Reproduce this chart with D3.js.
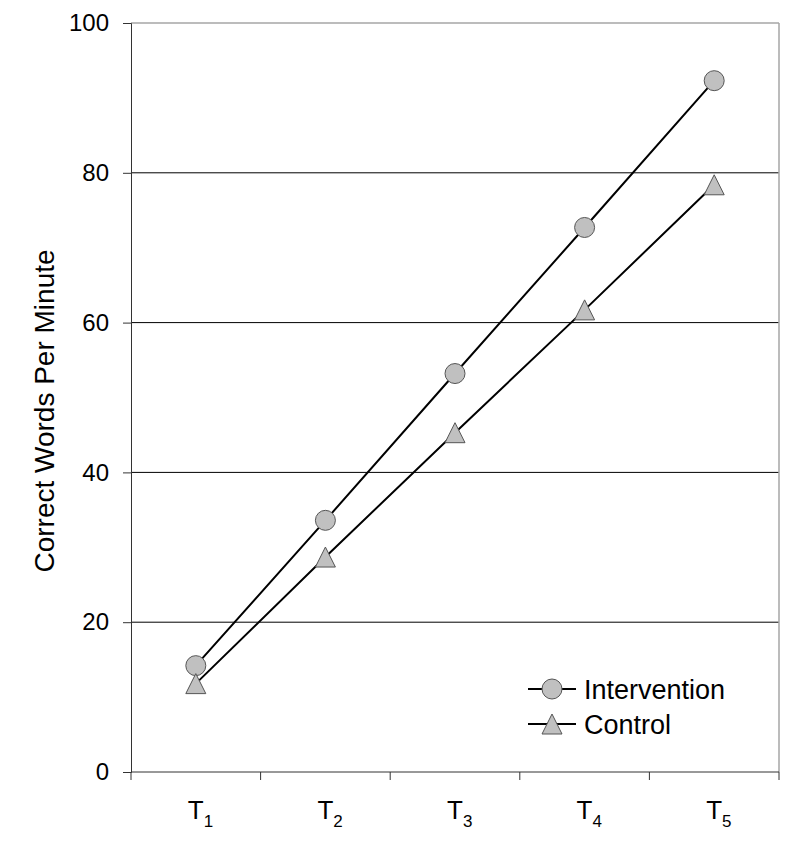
<!DOCTYPE html>
<html>
<head>
<meta charset="utf-8">
<script src="https://cdn.jsdelivr.net/npm/d3@7"></script>
<style>
  body { margin: 0; background: #fff; }
  text { font-family: Arial, "Liberation Sans", sans-serif; fill: #000; }
</style>
</head>
<body>
<svg id="chart" width="800" height="846"></svg>
<script>
// time points and series
const times = ["1", "2", "3", "4", "5"];
const intervention = [14.2, 33.6, 53.2, 72.7, 92.3];
const control = [11.8, 28.7, 45.3, 61.7, 78.4];
const yTicks = [0, 20, 40, 60, 80, 100];
const seriesNames = ["Intervention", "Control"];

const W = 800, H = 846;
const margin = {left: 131, right: 21, top: 23, bottom: 74};
const width = W - margin.left - margin.right;
const height = H - margin.top - margin.bottom;

const svg = d3.select("#chart");
const g = svg.append("g").attr("transform", `translate(${margin.left},${margin.top})`);

const x = d3.scaleBand().domain(times).range([0, width]);
const y = d3.scaleLinear().domain([0, 100]).range([height, 0]);
const cx = d => x(d) + x.bandwidth() / 2;

// gridlines (top one is the grey frame)
g.selectAll(".grid")
  .data(yTicks.filter(t => t > 0))
  .enter().append("line")
  .attr("x1", 0).attr("x2", width)
  .attr("y1", d => y(d)).attr("y2", d => y(d))
  .attr("stroke", d => d === 100 ? "#a6a6a6" : "#000")
  .attr("stroke-width", d => d === 100 ? 1.5 : 1);

// right frame
g.append("line")
  .attr("x1", width).attr("x2", width)
  .attr("y1", 0).attr("y2", height)
  .attr("stroke", "#a6a6a6").attr("stroke-width", 1.5);

// y axis
const yAxis = g.append("g")
  .call(d3.axisLeft(y).tickValues(yTicks).tickSize(8).tickPadding(14));
yAxis.select(".domain").attr("stroke", "#333");
yAxis.selectAll(".tick line").attr("stroke", "#333");
yAxis.selectAll(".tick text").style("font-size", "24px").attr("fill", "#000");

// x axis: ticks on band boundaries
const xg = g.append("g").attr("transform", `translate(0,${height})`);
xg.append("line").attr("x1", 0).attr("x2", width).attr("stroke", "#333");
xg.selectAll(".xt")
  .data(d3.range(times.length + 1))
  .enter().append("line")
  .attr("x1", i => i * x.step()).attr("x2", i => i * x.step())
  .attr("y1", 0).attr("y2", 8)
  .attr("stroke", "#333");
const xl = xg.selectAll(".xl")
  .data(times)
  .enter().append("text")
  .attr("x", d => cx(d) - 8)
  .attr("y", 47)
  .style("font-size", "26px");
xl.append("tspan").text("T");
xl.append("tspan").attr("dy", 8).style("font-size", "17px").text(d => d);

// y title
svg.append("text")
  .attr("transform", `translate(54,411) rotate(-90)`)
  .attr("text-anchor", "middle")
  .style("font-size", "28px")
  .text("Correct Words Per Minute");

const line = d3.line().x((d, i) => cx(times[i])).y(d => y(d));

const tri = (s) => `M0,${-s/2}L${s/2},${s/2}L${-s/2},${s/2}Z`;

function drawSeries(vals, marker) {
  g.append("path").datum(vals)
    .attr("d", line)
    .attr("fill", "none").attr("stroke", "#000").attr("stroke-width", 2);
  const m = g.selectAll(null).data(vals).enter();
  if (marker === "circle") {
    m.append("circle")
      .attr("cx", (d, i) => cx(times[i])).attr("cy", d => y(d)).attr("r", 10)
      .attr("fill", "#c0c0c0").attr("stroke", "#555").attr("stroke-width", 1);
  } else {
    m.append("path")
      .attr("transform", (d, i) => `translate(${cx(times[i])},${y(d)})`)
      .attr("d", tri(20))
      .attr("fill", "#c0c0c0").attr("stroke", "#555").attr("stroke-width", 1);
  }
}
drawSeries(intervention, "circle");
drawSeries(control, "triangle");

// legend
const legend = svg.append("g").attr("transform", "translate(528,689)");
seriesNames.forEach((name, i) => {
  const row = legend.append("g").attr("transform", `translate(0,${i * 35})`);
  row.append("line").attr("x1", 0).attr("x2", 48).attr("stroke", "#000").attr("stroke-width", 2);
  if (i === 0) {
    row.append("circle").attr("cx", 24).attr("r", 10)
      .attr("fill", "#c0c0c0").attr("stroke", "#555");
  } else {
    row.append("path").attr("transform", "translate(24,0)").attr("d", tri(20))
      .attr("fill", "#c0c0c0").attr("stroke", "#555");
  }
  row.append("text").attr("x", 56).attr("y", 9.5)
    .style("font-size", "27px").text(name);
});
</script>
</body>
</html>
